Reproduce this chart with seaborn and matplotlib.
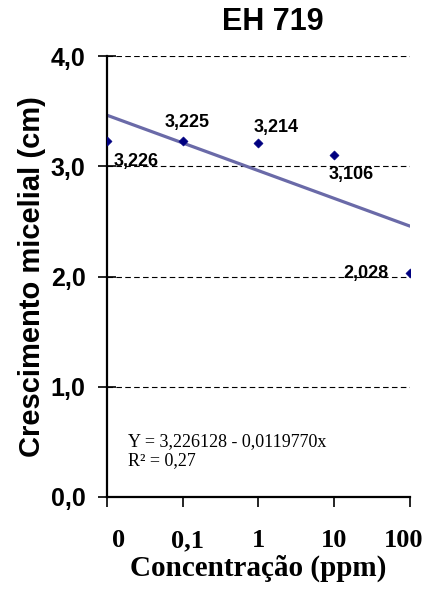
import matplotlib
matplotlib.use("Agg")
import matplotlib.pyplot as plt
import matplotlib.transforms as mtransforms
import numpy as np
import pandas as pd
import seaborn as sns

# Data
concentrations = ["0", "0,1", "1", "10", "100"]
growth = [3.226, 3.225, 3.214, 3.106, 2.028]
value_labels = ["3,226", "3,225", "3,214", "3,106", "2,028"]
y_ticks = [0.0, 1.0, 2.0, 3.0, 4.0]
y_tick_labels = ["0,0", "1,0", "2,0", "3,0", "4,0"]
equation_text = "Y = 3,226128 - 0,0119770x\nR² = 0,27"

sns.set_style("white")
plt.rcParams["font.family"] = ["Liberation Sans", "DejaVu Sans"]
for key in ["text.color", "axes.labelcolor", "xtick.color", "ytick.color"]:
    plt.rcParams[key] = "black"

df = pd.DataFrame({"pos": np.arange(len(concentrations)), "growth": growth})

fig = plt.figure(figsize=(4.35, 5.94), dpi=100)
ax = fig.add_axes([107 / 435, 97 / 594, 303 / 435, 441 / 594])

# dashed horizontal gridlines
for yt in y_ticks[1:]:
    ax.axhline(yt, color="black", lw=0.8, ls=(0, (5, 3)), zorder=1)

# linear trend over category positions
sns.regplot(data=df, x="pos", y="growth", ax=ax, scatter=False, ci=None,
            line_kws=dict(color="#6a6aa8", lw=2.3, zorder=2))
sns.scatterplot(data=df, x="pos", y="growth", ax=ax, marker="D", s=22,
                color="#000080", edgecolor="#000080", zorder=3)

# value labels next to each point (offsets in pixels)
offsets = [(29, -20), (4, 19), (18, 15), (17, -20), (-44, 0)]
for i, (lab, off) in enumerate(zip(value_labels, offsets)):
    ax.annotate(lab, (i, growth[i]), xytext=off, textcoords="offset pixels",
                ha="center", va="center", fontsize=13, fontweight="bold")

ax.set_xlim(0, 4)
ax.set_ylim(0, 4)
ax.set_xticks(range(len(concentrations)))
ax.set_xticklabels(concentrations, fontfamily="Liberation Serif",
                   fontweight="bold", fontsize=19)
ax.set_yticks(y_ticks)
ax.set_yticklabels(y_tick_labels, fontweight="bold", fontsize=18)

ax.tick_params(axis="y", direction="inout", length=13, width=1.2, pad=9,
               left=True)
ax.tick_params(axis="x", direction="out", length=7, width=1.2, pad=16,
               bottom=True)

# nudge the outer category labels as laid out in the axis
nudges = [12, 5, 0, 0, -6]
for lbl, dx in zip(ax.get_xticklabels(), nudges):
    lbl.set_transform(lbl.get_transform() +
                      mtransforms.ScaledTranslation(dx / 100, 0, fig.dpi_scale_trans))

for side in ["top", "right"]:
    ax.spines[side].set_visible(False)
for side in ["left", "bottom"]:
    ax.spines[side].set_color("black")
    ax.spines[side].set_linewidth(1.6)

ax.set_xlabel("Concentração (ppm)", fontfamily="Liberation Serif",
              fontweight="bold", fontsize=21, labelpad=2)
ax.set_ylabel("Crescimento micelial (cm)", fontweight="bold", fontsize=21,
              labelpad=3)

fig.text(128 / 435, (594 - 433) / 594, equation_text,
         fontfamily="Liberation Serif", fontsize=13, va="top", ha="left",
         linespacing=1.15)

fig.text(273 / 435, 1 - 22 / 594, "EH 719", ha="center", va="center",
         fontsize=22, fontweight="bold")

fig.savefig("out.png", dpi=100)
